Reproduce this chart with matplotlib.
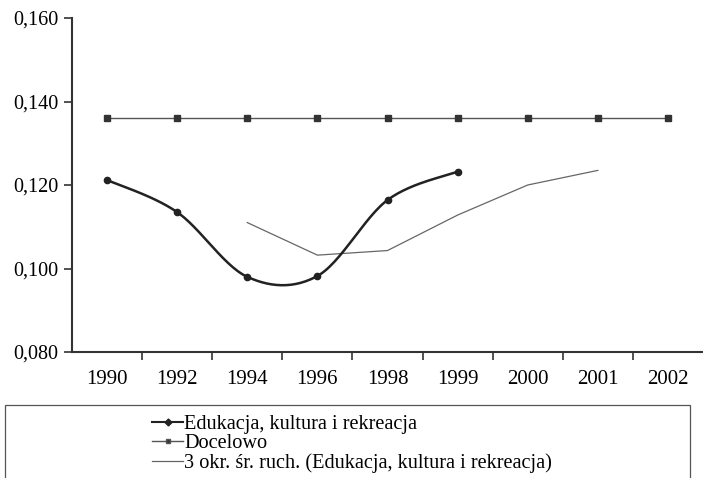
import numpy as np
import matplotlib
matplotlib.use("Agg")
from matplotlib import pyplot as plt
from matplotlib.ticker import FuncFormatter, FixedLocator
from matplotlib.patches import Rectangle

years = ['1990', '1992', '1994', '1996', '1998', '1999', '2000', '2001', '2002']
edukacja = [0.1212, 0.1135, 0.0980, 0.0982, 0.1164, 0.1232]
docelowo = [0.136, 0.136, 0.136, 0.136, 0.136, 0.136, 0.136, 0.136, 0.136]
srednia = [0.1110, 0.1032, 0.1043, 0.1128, 0.1200, 0.1235]
srednia_start = 2

labels = ['Edukacja, kultura i rekreacja', 'Docelowo',
          '3 okr. śr. ruch. (Edukacja, kultura i rekreacja)']


def smooth(x, y, n=30):
    # Catmull-Rom like Excel "smoothed line"
    x = np.asarray(x, float)
    y = np.asarray(y, float)
    px = np.concatenate([[x[0]], x, [x[-1]]])
    py = np.concatenate([[y[0]], y, [y[-1]]])
    xs, ys = [], []
    for i in range(1, len(px) - 2):
        t = np.linspace(0, 1, n)
        for p, out in ((px, xs), (py, ys)):
            p0, p1, p2, p3 = p[i - 1], p[i], p[i + 1], p[i + 2]
            out.extend(0.5 * ((2 * p1) + (-p0 + p2) * t +
                              (2 * p0 - 5 * p1 + 4 * p2 - p3) * t ** 2 +
                              (-p0 + 3 * p1 - 3 * p2 + p3) * t ** 3))
    return np.array(xs), np.array(ys)


plt.rcParams['font.family'] = ['Liberation Serif', 'DejaVu Serif']

fig = plt.figure(figsize=(7.03, 4.78), dpi=100)
ax = fig.add_axes([72 / 703, 1 - 352 / 478, 1 - 72 / 703, (352 - 18) / 478])

x_all = np.arange(len(years))
x_edu = x_all[:len(edukacja)]
sx, sy = smooth(x_edu, edukacja)
ax.plot(sx, sy, color='#222222', lw=1.8, zorder=3)
ax.plot(x_edu, edukacja, 'o', color='#222222', ms=4.5, zorder=4)

ax.plot(x_all, docelowo, color='#555555', lw=1.0, marker='s', ms=4.3,
        mfc='#333333', mec='#333333', zorder=3)

x_sr = x_all[srednia_start:srednia_start + len(srednia)]
ax.plot(x_sr, srednia, color='#666666', lw=0.9, zorder=2)

ax.set_xlim(-0.5, len(years) - 0.5)
ax.set_ylim(0.080, 0.160)
ax.set_yticks([0.080, 0.100, 0.120, 0.140, 0.160])
ax.yaxis.set_major_formatter(FuncFormatter(lambda v, p: f'{v:.3f}'.replace('.', ',')))

ax.xaxis.set_major_locator(FixedLocator(np.arange(0.5, len(years) - 0.5, 1.0)))
ax.xaxis.set_major_formatter(FuncFormatter(lambda v, p: ''))
ax.xaxis.set_minor_locator(FixedLocator(x_all))
ax.set_xticklabels(years, minor=True)
ax.tick_params(axis='x', which='major', length=6, width=1.2, color='#333333')
ax.tick_params(axis='x', which='minor', length=0, pad=13, labelsize=15)
ax.tick_params(axis='y', length=6, width=1.2, color='#333333', labelsize=14.5, pad=4)

for s in ('top', 'right'):
    ax.spines[s].set_visible(False)
for s in ('left', 'bottom'):
    ax.spines[s].set_linewidth(1.5)
    ax.spines[s].set_color('#333333')

# legend box
fig.patches.append(Rectangle((5 / 703, -0.05), 685 / 703, 0.05 + (478 - 405) / 478,
                             transform=fig.transFigure, fill=False,
                             edgecolor='#555555', lw=0.9))
handles = [
    plt.Line2D([], [], color='#222222', lw=1.5, marker='D', ms=3.5),
    plt.Line2D([], [], color='#555555', lw=1.0, marker='s', ms=3.5, mfc='#333333'),
    plt.Line2D([], [], color='#666666', lw=0.9),
]
fig.legend(handles, labels, loc='upper left', bbox_to_anchor=(152 / 703, 1 - 415 / 478),
           frameon=False, fontsize=14.6, labelspacing=0.0, handlelength=1.55,
           handletextpad=0.05, borderpad=0, borderaxespad=0)

fig.savefig('out.png', dpi=100)
